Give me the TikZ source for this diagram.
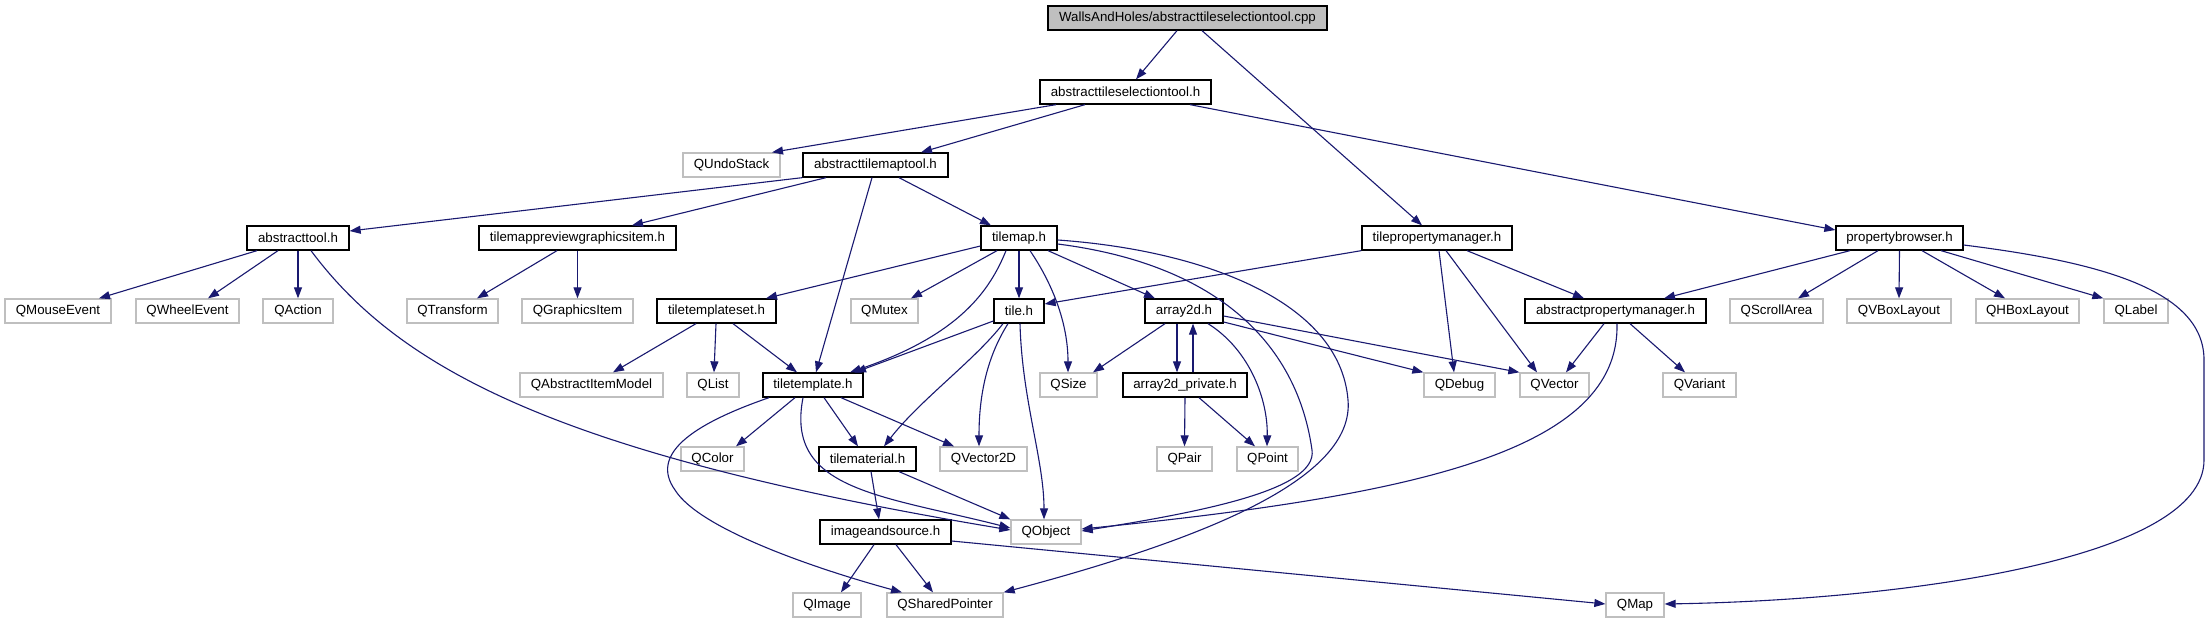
\documentclass[tikz,border=0pt]{standalone}
\usepackage{fontspec}
\setmainfont{Liberation Sans}
\usetikzlibrary{arrows.meta}
\definecolor{edgec}{HTML}{191970}
\definecolor{extgray}{HTML}{BFBFBF}
\begin{document}
\begin{tikzpicture}[x=1pt,y=-1pt,
  box/.style={rectangle, minimum height=24pt, inner xsep=0pt, inner ysep=0pt, fill=white, text=black, font=\fontsize{13.3}{16}\selectfont},
  doc/.style={box, draw=black, line width=1.3pt},
  ext/.style={box, draw=extgray, line width=1.3pt},
  mainbox/.style={box, draw=black, line width=1.3pt, fill=extgray},
  edge/.style={draw=edgec, line width=1.1pt, -{Triangle[length=11pt,width=8pt]}}]
\useasboundingbox[fill=white] (0,0) rectangle (2211,623);
% nodes
\node[mainbox, minimum width=279] (main) at (1187.5,18) {WallsAndHoles/abstracttileselectiontool.cpp};
\node[doc, minimum width=171] (ats) at (1125.5,92) {abstracttileselectiontool.h};
\node[ext, minimum width=97] (qundo) at (731.5,165) {QUndoStack};
\node[doc, minimum width=145] (atm) at (875.5,165) {abstracttilemaptool.h};
\node[doc, minimum width=150] (tpm) at (1437,238) {tilepropertymanager.h};
\node[doc, minimum width=127] (pb) at (1899.5,238) {propertybrowser.h};
\node[doc, minimum width=102] (at) at (298,238) {abstracttool.h};
\node[doc, minimum width=197] (tpg) at (577.5,238) {tilemappreviewgraphicsitem.h};
\node[doc, minimum width=76] (tm) at (1019,238) {tilemap.h};
% row 311
\node[ext, minimum width=106] (qmouse) at (58,311) {QMouseEvent};
\node[ext, minimum width=103] (qwheel) at (187.5,311) {QWheelEvent};
\node[ext, minimum width=70] (qaction) at (298,311) {QAction};
\node[ext, minimum width=91] (qtransform) at (452.5,311) {QTransform};
\node[ext, minimum width=111] (qgitem) at (577.5,311) {QGraphicsItem};
\node[doc, minimum width=119] (tts) at (716.5,311) {tiletemplateset.h};
\node[ext, minimum width=67] (qmutex) at (884.5,311) {QMutex};
\node[doc, minimum width=50] (tile) at (1019,311) {tile.h};
\node[doc, minimum width=78] (a2d) at (1184,311) {array2d.h};
\node[doc, minimum width=181] (apm) at (1615.5,311) {abstractpropertymanager.h};
\node[ext, minimum width=93] (qscroll) at (1776.5,311) {QScrollArea};
\node[ext, minimum width=104] (qvbox) at (1899,311) {QVBoxLayout};
\node[ext, minimum width=103] (qhbox) at (2027.5,311) {QHBoxLayout};
\node[ext, minimum width=64] (qlabel) at (2136,311) {QLabel};
% row 385
\node[ext, minimum width=143] (qaim) at (591.5,385) {QAbstractItemModel};
\node[ext, minimum width=52] (qlist) at (713,385) {QList};
\node[doc, minimum width=100] (tt) at (813,385) {tiletemplate.h};
\node[ext, minimum width=57] (qsize) at (1068.5,385) {QSize};
\node[doc, minimum width=124] (a2p) at (1185,385) {array2d\_private.h};
\node[ext, minimum width=71] (qdebug) at (1459.5,385) {QDebug};
\node[ext, minimum width=69] (qvector) at (1554.5,385) {QVector};
\node[ext, minimum width=73] (qvariant) at (1699.5,385) {QVariant};
% row 459
\node[ext, minimum width=63] (qcolor) at (712.5,459) {QColor};
\node[doc, minimum width=97] (tmat) at (867.5,459) {tilematerial.h};
\node[ext, minimum width=87] (qvec2d) at (983.5,459) {QVector2D};
\node[ext, minimum width=55] (qpair) at (1184.5,459) {QPair};
\node[ext, minimum width=61] (qpoint) at (1267.5,459) {QPoint};
% row 532
\node[doc, minimum width=131] (ias) at (885.5,532) {imageandsource.h};
\node[ext, minimum width=70] (qobject) at (1046,532) {QObject};
% row 605
\node[ext, minimum width=68] (qimage) at (827,605) {QImage};
\node[ext, minimum width=116] (qsp) at (945,605) {QSharedPointer};
\node[ext, minimum width=58] (qmap) at (1635,605) {QMap};
% edges
\draw[edge] (main.south -| 1177,0) -- (ats.north -| 1136,0);
\draw[edge] (main.south -| 1202,0) -- (tpm.north -| 1422,0);
\draw[edge] (ats.south -| 1056,0) -- (qundo.north -| 772,0);
\draw[edge] (ats.south -| 1085,0) -- (atm.north -| 921,0);
\draw[edge] (ats.south -| 1190,0) -- (pb.west |- 0,230);
\draw[edge] (atm.south west) -- (at.east |- 0,231);
\draw[edge] (atm.south -| 826,0) -- (tpg.north -| 632,0);
\draw[edge] (atm.south -| 872,0) -- (tt.north -| 816,0);
\draw[edge] (atm.south -| 899,0) -- (tm.north -| 991,0);
\draw[edge] (at.south -| 257,0) -- (qmouse.north -| 99,0);
\draw[edge] (at.south -| 278,0) -- (qwheel.north -| 208,0);
\draw[edge] (at.south) -- (qaction.north);
\draw[edge] (at.south -| 311,0) .. controls (400,370) and (560,455) .. (qobject.west |- 0,530);
\draw[edge] (tpg.south -| 557,0) -- (qtransform.north -| 477,0);
\draw[edge] (tpg.south) -- (qgitem.north);
\draw[edge] (tm.west |- 0,246) -- (tts.north -| 766,0);
\draw[edge] (tm.south -| 997,0) -- (qmutex.north -| 911,0);
\draw[edge] (tm.south) -- (tile.north);
\draw[edge] (tm.south -| 1006,0) .. controls (990,290) and (960,335) .. (tt.north -| 850,0);
\draw[edge] (tm.south -| 1030,0) .. controls (1050,280) and (1068,320) .. (qsize.north -| 1068,0);
\draw[edge] (tm.south -| 1048,0) -- (a2d.north -| 1155,0);
\draw[edge] (tm.east |- 0,244) .. controls (1200,262) and (1295,330) .. (1312,450) .. controls (1318,490) and (1200,512) .. (qobject.east |- 0,531);
\draw[edge] (tm.east |- 0,240) .. controls (1200,250) and (1340,300) .. (1348,400) .. controls (1355,480) and (1200,540) .. (qsp.north east);
\draw[edge] (tts.south -| 696,0) -- (qaim.north -| 613,0);
\draw[edge] (tts.south -| 716,0) -- (qlist.north -| 714,0);
\draw[edge] (tts.south -| 733,0) -- (tt.north -| 797,0);
\draw[edge] (tile.west |- 0,321) -- (tt.north -| 855,0);
\draw[edge] (tile.south -| 1003,0) .. controls (975,360) and (920,400) .. (tmat.north -| 884,0);
\draw[edge] (tile.south -| 1008,0) .. controls (985,360) and (979,400) .. (qvec2d.north -| 979,0);
\draw[edge] (tile.south -| 1020,0) .. controls (1022,400) and (1044,460) .. (qobject.north -| 1044,0);
\draw[edge] (tpm.south west) -- (tile.east |- 0,304);
\draw[edge] (tpm.south -| 1439,0) -- (qdebug.north -| 1454,0);
\draw[edge] (tpm.south -| 1446,0) -- (qvector.north -| 1537,0);
\draw[edge] (tpm.south -| 1467,0) -- (apm.north -| 1584,0);
\draw[edge] (pb.south -| 1850,0) -- (apm.north -| 1664,0);
\draw[edge] (pb.south -| 1878,0) -- (qscroll.north -| 1798,0);
\draw[edge] (pb.south) -- (qvbox.north);
\draw[edge] (pb.south -| 1922,0) -- (qhbox.north -| 2005,0);
\draw[edge] (pb.south -| 1941,0) -- (qlabel.north west);
\draw[edge] (pb.east |- 0,245) .. controls (2100,262) and (2204,290) .. (2204,360) -- (2204,460) .. controls (2204,560) and (1900,600) .. (qmap.east |- 0,604);
\draw[edge] (a2d.south -| 1165,0) -- (qsize.north -| 1093,0);
\draw[edge] (a2d.south -| 1177,0) -- (a2p.north -| 1177,0);
\draw[edge] (a2p.north -| 1193,0) -- (a2d.south -| 1193,0);
\draw[edge] (a2d.south -| 1208,0) .. controls (1250,350) and (1268,400) .. (qpoint.north -| 1267,0);
\draw[edge] (a2d.east |- 0,322) -- (qdebug.north west);
\draw[edge] (a2d.east |- 0,316) -- (qvector.north west);
\draw[edge] (a2p.south) -- (qpair.north);
\draw[edge] (a2p.south -| 1199,0) -- (qpoint.north -| 1255,0);
\draw[edge] (apm.south -| 1604,0) -- (qvector.north -| 1566,0);
\draw[edge] (apm.south -| 1630,0) -- (qvariant.north -| 1685,0);
\draw[edge] (apm.south -| 1617,0) .. controls (1620,450) and (1420,495) .. (qobject.east |- 0,529);
\draw[edge] (tt.south -| 795,0) -- (qcolor.north -| 736,0);
\draw[edge] (tt.south -| 824,0) -- (tmat.north -| 858,0);
\draw[edge] (tt.south -| 841,0) -- (qvec2d.north -| 954,0);
\draw[edge] (tt.south -| 803,0) .. controls (785,490) and (880,495) .. (qobject.west |- 0,528);
\draw[edge] (tt.south -| 769,0) .. controls (690,425) and (650,455) .. (675,490) .. controls (700,530) and (820,570) .. (qsp.north -| 902,0);
\draw[edge] (tmat.south -| 871,0) -- (ias.north -| 879,0);
\draw[edge] (tmat.south -| 899,0) -- (qobject.north west);
\draw[edge] (ias.south -| 874,0) -- (qimage.north -| 841,0);
\draw[edge] (ias.south -| 896,0) -- (qsp.north -| 933,0);
\draw[edge] (ias.east |- 0,541) -- (qmap.west |- 0,604);
\end{tikzpicture}
\end{document}
